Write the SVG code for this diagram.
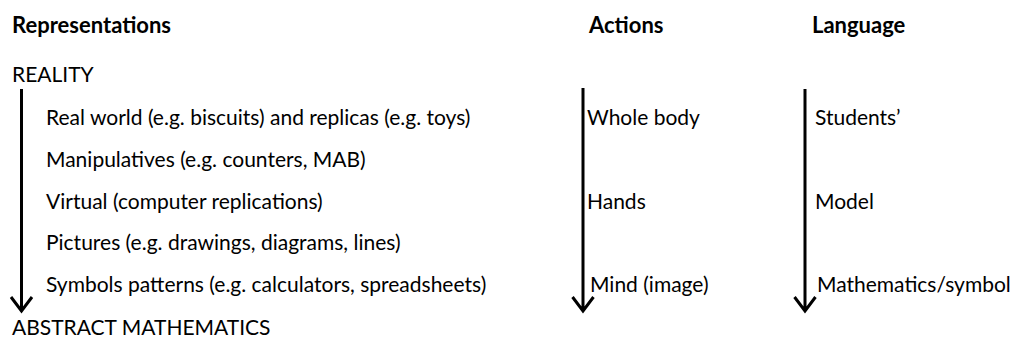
<svg xmlns="http://www.w3.org/2000/svg" width="1036" height="351" viewBox="0 0 1036 351">
<style>
text{font-family:Lato,"Liberation Sans",sans-serif;font-size:21px;fill:#000}
.h{font-weight:bold;font-size:22px}
.ax{stroke:#000;stroke-width:3;fill:none}
</style>
<rect width="1036" height="351" fill="#fff"/>
<g id="headers">
<text class="h" x="12" y="33">Representations</text>
<text class="h" x="589" y="33">Actions</text>
<text class="h" x="812" y="33">Language</text>
</g>
<g id="representations">
<text x="12" y="82">REALITY</text>
<text x="46" y="125">Real world (e.g. biscuits) and replicas (e.g. toys)</text>
<text x="46" y="167">Manipulatives (e.g. counters, MAB)</text>
<text x="46" y="209">Virtual (computer replications)</text>
<text x="46" y="250">Pictures (e.g. drawings, diagrams, lines)</text>
<text x="46" y="292">Symbols patterns (e.g. calculators, spreadsheets)</text>
<text x="12" y="335">ABSTRACT MATHEMATICS</text>
</g>
<g id="actions">
<text x="587" y="125">Whole body</text>
<text x="587" y="209">Hands</text>
<text x="590" y="292">Mind (image)</text>
</g>
<g id="language">
<text x="815" y="125">Students’</text>
<text x="815" y="209">Model</text>
<text x="817" y="292">Mathematics/symbol</text>
</g>
<g id="connectors">
<path class="ax" d="M21.5 89V310M11 297L21.5 311L32 297"/>
<path class="ax" d="M583 88V310M572.5 297L583 311L593.5 297"/>
<path class="ax" d="M805 89V310M794.5 297L805 311L815.5 297"/>
</g>
</svg>
